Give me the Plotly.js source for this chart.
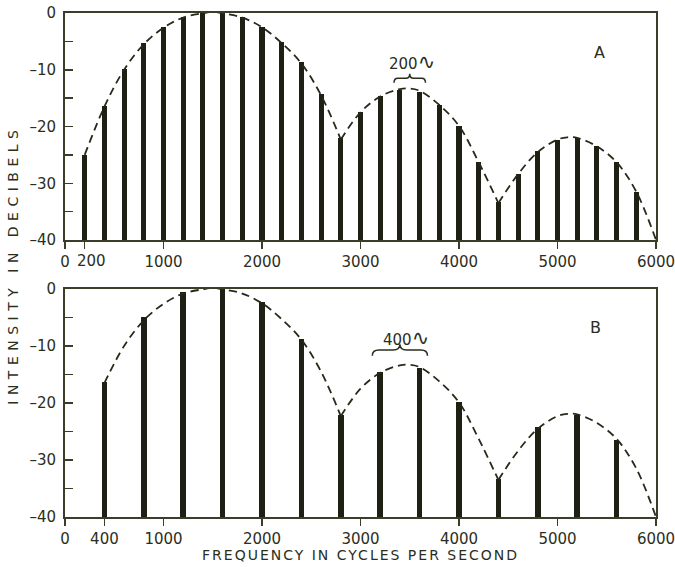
<!DOCTYPE html>
<html>
<head>
<meta charset="utf-8">
<script src="https://cdn.plot.ly/plotly-3.0.1.min.js"></script>
<style>
  html, body { margin: 0; padding: 0; background: #ffffff; }
  #chart { width: 675px; height: 567px; }
</style>
</head>
<body>
<div id="chart"></div>
<script>
// ---------- data ----------
const FLOOR = -40;

// Panel A: 200-cycle harmonics
const freqA = [200, 400, 600, 800, 1000, 1200, 1400, 1600, 1800, 2000,
               2200, 2400, 2600, 2800, 3000, 3200, 3400, 3600, 3800, 4000,
               4200, 4400, 4600, 4800, 5000, 5200, 5400, 5600, 5800];
const dbA = [-25.0, -16.3, -9.8, -5.3, -2.5, -0.7, 0, 0, -0.7, -2.4,
             -5.1, -8.7, -14.3, -22.1, -17.4, -14.6, -13.5, -13.9, -16.2, -19.9,
             -26.2, -33.3, -28.3, -24.4, -22.3, -22.0, -23.5, -26.2, -31.5];

// Panel B: 400-cycle harmonics
const freqB = [400, 800, 1200, 1600, 2000, 2400, 2800, 3200, 3600, 4000,
               4400, 4800, 5200, 5600];
const dbB = [-16.3, -5.0, -0.6, 0, -2.2, -8.8, -22.1, -14.5, -13.9, -19.8,
             -33.3, -24.2, -22.1, -26.5];

// Envelope (dashed), three lobes
const env1X = [200, 400, 600, 800, 1000, 1200, 1400, 1500, 1600, 1800, 2000, 2200, 2400, 2600, 2800];
const env1Y = [-25, -16.5, -10, -5.5, -2.6, -0.8, -0.05, 0.2, -0.05, -0.8, -2.5, -5.3, -8.9, -14.5, -22.3];
const env2X = [2800, 3000, 3200, 3400, 3500, 3600, 3800, 4000, 4200, 4400];
const env2Y = [-22.3, -17.5, -14.7, -13.4, -13.3, -13.7, -16.2, -19.9, -26.3, -33.5];
const env3X = [4400, 4600, 4800, 5000, 5100, 5200, 5400, 5600, 5800, 6000];
const env3Y = [-33.5, -28.4, -24.5, -22.3, -21.9, -22.0, -23.5, -26.3, -31.5, -40];

// Tick labels
const xTicksA = [0, 200, 1000, 2000, 3000, 4000, 5000, 6000];
const xTickTextA = ['0', '', '1000', '2000', '3000', '4000', '5000', '6000'];
const firstHarmonicLabelA = '200';
const xTicksB = [0, 400, 1000, 2000, 3000, 4000, 5000, 6000];
const xTickTextB = ['0', '400', '1000', '2000', '3000', '4000', '5000', '6000'];
const yTicks = [-40, -30, -20, -10, 0];
const yTickText = ['\u201340', '\u201330', '\u201320', '\u201310', '0'];

// ---------- style ----------
const INK = '#1d2012';
const AXIS = '#3a3d27';
const TXT = '#2b2e1c';
const FONT = 'DejaVu Sans';

function barTrace(x, y, xa, ya, w) {
  return {
    type: 'bar', x: x, y: y.map(v => v - FLOOR), base: FLOOR,
    width: w, marker: { color: INK, line: { width: 0 } },
    xaxis: xa, yaxis: ya, hoverinfo: 'skip', showlegend: false
  };
}
function envTrace(x, y, xa, ya) {
  return {
    type: 'scatter', mode: 'lines', x: x, y: y,
    line: { color: '#262a18', width: 1.8, dash: '8px,5px', shape: 'spline', smoothing: 1 },
    xaxis: xa, yaxis: ya, hoverinfo: 'skip', showlegend: false
  };
}
function filt(xs, ys, min) {
  const ox = [], oy = [];
  xs.forEach((x, i) => { if (x >= min) { ox.push(x); oy.push(ys[i]); } });
  return [ox, oy];
}

const e1B = filt(env1X, env1Y, 400);

const traces = [
  barTrace(freqA, dbA, 'x', 'y', 52),
  envTrace(env1X, env1Y, 'x', 'y'),
  envTrace(env2X, env2Y, 'x', 'y'),
  envTrace(env3X, env3Y, 'x', 'y'),
  barTrace(freqB, dbB, 'x2', 'y2', 58),
  envTrace(e1B[0], e1B[1], 'x2', 'y2'),
  envTrace(env2X, env2Y, 'x2', 'y2'),
  envTrace(env3X, env3Y, 'x2', 'y2')
];

function xAxis(ticks, text, anchor) {
  return {
    anchor: anchor, range: [0, 6000], tickmode: 'array', tickvals: ticks,
    ticktext: text, tickangle: 0, ticklabeloverflow: 'allow',
    showline: true, linecolor: AXIS, linewidth: 2, mirror: true,
    ticks: 'outside', ticklen: 7, tickwidth: 1.5, tickcolor: AXIS,
    showgrid: false, zeroline: false,
    tickfont: { family: FONT, size: 15, color: TXT }
  };
}
function yAxis(domain, anchor) {
  return {
    anchor: anchor, domain: domain, range: [FLOOR, 0],
    tickmode: 'array', tickvals: yTicks, ticktext: yTickText,
    showline: true, linecolor: AXIS, linewidth: 2, mirror: true,
    ticks: 'inside', ticklen: 8, tickwidth: 1.5, tickcolor: AXIS,
    minor: { tickmode: 'linear', tick0: -35, dtick: 10, ticks: 'inside', ticklen: 8, tickwidth: 1.5, tickcolor: AXIS },
    ticklabelstandoff: 4, ticklabeloverflow: 'allow',
    showgrid: false, zeroline: false,
    tickfont: { family: FONT, size: 15, color: TXT }
  };
}

// brace path (downward-opening curly brace) in data coordinates
function bracePath(x0, x1, y, h) {
  const xm = (x0 + x1) / 2, d = (x1 - x0) * 0.12;
  return `M ${x0},${y - h} Q ${x0},${y} ${x0 + d},${y} L ${xm - d},${y} Q ${xm},${y} ${xm},${y + h} ` +
         `Q ${xm},${y} ${xm + d},${y} L ${x1 - d},${y} Q ${x1},${y} ${x1},${y - h}`;
}

const SINE = '<span style="font-size:21px">\u223F</span>';

const layout = {
  width: 675, height: 567,
  margin: { l: 65, r: 19, t: 13, b: 50 },
  paper_bgcolor: '#ffffff', plot_bgcolor: '#ffffff',
  bargap: 0,
  xaxis: xAxis(xTicksA, xTickTextA, 'y'),
  yaxis: yAxis([0.5496, 1], 'x'),
  xaxis2: xAxis(xTicksB, xTickTextB, 'y2'),
  yaxis2: yAxis([0, 0.4524], 'x2'),
  shapes: [
    { type: 'path', xref: 'x', yref: 'y', path: bracePath(3340, 3660, -11.5, 0.8),
      line: { color: TXT, width: 1.5 } },
    { type: 'path', xref: 'x2', yref: 'y2', path: bracePath(3120, 3680, -10.7, 1.0),
      line: { color: TXT, width: 1.5 } }
  ],
  annotations: [
    { xref: 'x', yref: 'y', x: freqA[0], y: FLOOR, xshift: 7, yshift: -21,
      text: firstHarmonicLabelA, showarrow: false, xanchor: 'center', yanchor: 'middle',
      font: { family: FONT, size: 15, color: TXT } },
    { xref: 'x', yref: 'y', x: 3520, y: -8.6, text: '200' + SINE, showarrow: false,
      font: { family: FONT, size: 15, color: TXT } },
    { xref: 'x2', yref: 'y2', x: 3460, y: -8.6, text: '400' + SINE, showarrow: false,
      font: { family: FONT, size: 15, color: TXT } },
    { xref: 'x', yref: 'y', x: 5430, y: -7, text: 'A', showarrow: false,
      font: { family: FONT, size: 16, color: TXT } },
    { xref: 'x2', yref: 'y2', x: 5390, y: -6.7, text: 'B', showarrow: false,
      font: { family: FONT, size: 16, color: TXT } },
    { xref: 'paper', yref: 'paper', x: 0, y: 0.5, xshift: -52, textangle: -90,
      text: 'INTENSITY IN DECIBELS', showarrow: false, xanchor: 'center', yanchor: 'middle',
      font: { family: FONT, size: 14, color: TXT } },
    { xref: 'paper', yref: 'paper', x: 0.5, y: 0, yshift: -38,
      text: 'FREQUENCY IN CYCLES PER SECOND', showarrow: false, xanchor: 'center', yanchor: 'middle',
      font: { family: FONT, size: 14, color: TXT } }
  ]
};

Plotly.newPlot('chart', traces, layout, { staticPlot: true, displayModeBar: false }).then(() => {
  document.querySelectorAll('.annotation-text').forEach(t => {
    const s = t.textContent;
    if (s.indexOf('INTENSITY') === 0) t.style.letterSpacing = '5.5px';
    if (s.indexOf('FREQUENCY') === 0) t.style.letterSpacing = '2px';
  });
});
</script>
</body>
</html>
